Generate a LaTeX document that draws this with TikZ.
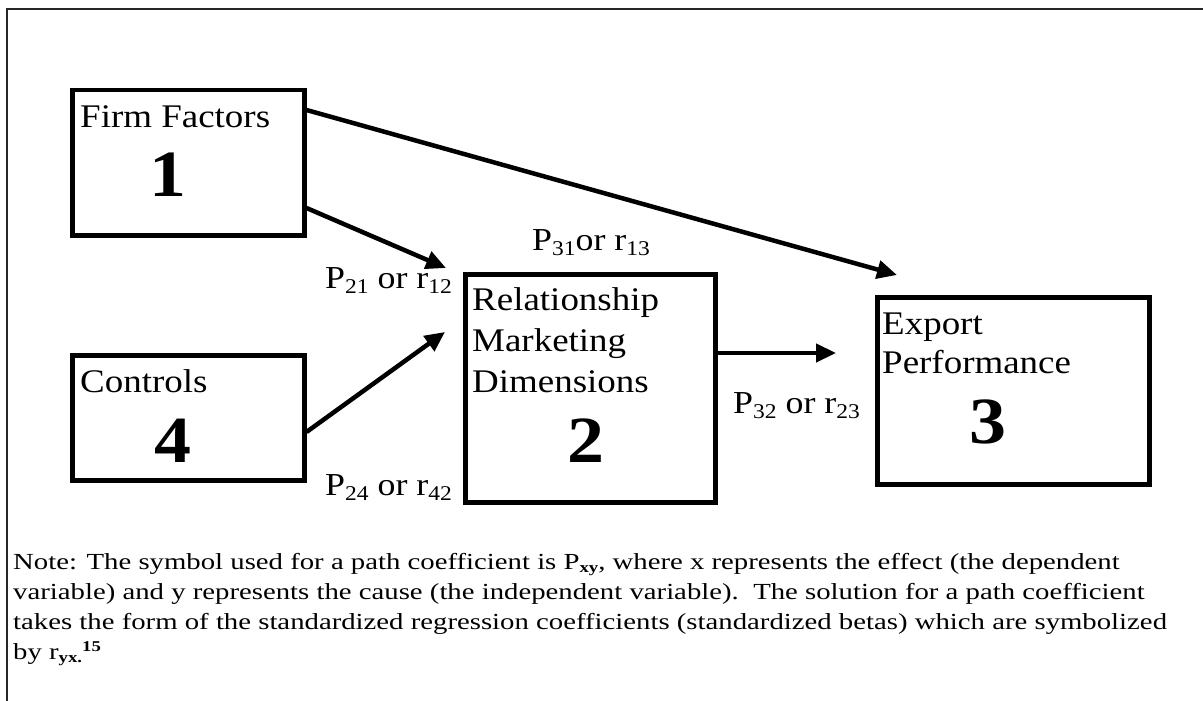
\documentclass[tikz,border=0pt]{standalone}
\usepackage{fontspec}
\setmainfont{Liberation Serif}[FakeStretch=1.12]
\newfontfamily\notefont{Liberation Serif}[FakeStretch=1.25]
\usetikzlibrary{arrows.meta,calc}

% small lowered / raised figures for the path symbols
\newcommand\lowfig[1]{\raisebox{-5pt}{\fontsize{21}{21}\selectfont #1}}
\newcommand\lownote[1]{\raisebox{-3pt}{\fontsize{15}{15}\selectfont\bfseries #1}}
\newcommand\highnote[1]{\raisebox{8pt}{\fontsize{15}{15}\selectfont\bfseries #1}}

\tikzset{
  box/.style={draw, line width=4.5pt, rectangle, inner sep=0pt, anchor=north west},
  lbl/.style={inner sep=0pt, anchor=base west, font=\fontsize{33}{40}\selectfont},
  num/.style={inner sep=0pt, anchor=base, font=\fontsize{66}{66}\selectfont\bfseries},
  coef/.style={inner sep=0pt, anchor=base west, font=\fontsize{32}{38}\selectfont},
  link/.style={line width=4.5pt, -{Triangle[length=20pt,width=18pt]}},
  frame/.style={line width=1.8pt, black!85}
}

\begin{document}
\begin{tikzpicture}[x=1pt,y=-1pt]
  \useasboundingbox (0,0) rectangle (1203,701);

  % open frame: top rule and left rule
  \coordinate (ftl) at (7,9);
  \coordinate (ftr) at (1203,9);
  \coordinate (fbl) at (7,701);
  \draw[frame] (ftr) -- (ftl) -- (fbl);

  % the four variable boxes
  \node[box, minimum width=232pt, minimum height=145pt] (b1) at (70,88) {};
  \node[box, minimum width=232pt, minimum height=125pt] (b4) at (70,353) {};
  \node[box, minimum width=250pt, minimum height=228pt] (b2) at (463,272) {};
  \node[box, minimum width=272pt, minimum height=187pt] (b3) at (875,295) {};

  % box titles
  \node[lbl] (t1) at (80,127) {Firm Factors};
  \node[lbl] (t4) at (80,392) {Controls};
  \node[lbl] (t2a) at (472,310) {Relationship};
  \node[lbl] (t2b) at (472,351) {Marketing};
  \node[lbl] (t2c) at (472,392) {Dimensions};
  \node[lbl] (t3a) at (882,334) {Export};
  \node[lbl] (t3b) at (882,373) {Performance};

  % box numbers
  \node[num] (n1) at (168,196) {1};
  \node[num] (n4) at (173,462) {4};
  \node[num] (n2) at (586,462) {2};
  \node[num] (n3) at (988,443) {3};

  % arrow tips
  \coordinate (e13) at (897,275);
  \coordinate (e12) at (446,268);
  \coordinate (e42) at (445,332);
  \coordinate (e23) at (836,353);

  % paths
  \draw[link] ($(b1.north east)+(0,22)$) -- (e13);
  \draw[link] ($(b1.north east)+(0,120)$) -- (e12);
  \draw[link] ($(b4.north east)+(0,79)$) -- (e42);
  \draw[link] ($(b2.north east)+(0,81)$) -- (e23);

  % path coefficients
  \node[coef] (c21) at (325,288) {P\lowfig{21} or r\lowfig{12}};
  \node[coef] (c31) at (532,250) {P\lowfig{31}or r\lowfig{13}};
  \node[coef] (c32) at (733,413) {P\lowfig{32} or r\lowfig{23}};
  \node[coef] (c24) at (325,495) {P\lowfig{24} or r\lowfig{42}};

  % note below the diagram (anchored on its last line)
  \node[inner sep=0pt, anchor=base west, align=left,
        font=\notefont\fontsize{23}{30}\selectfont] (note) at (13,659)
    {Note: The symbol used for a path coefficient is P\lownote{xy}, where x represents the effect (the dependent\\
     variable) and y represents the cause (the independent variable).\ \ The solution for a path coefficient\\
     takes the form of the standardized regression coefficients (standardized betas) which are symbolized\\
     by r\lownote{yx}\lownote{.}\highnote{15}};
\end{tikzpicture}
\end{document}
